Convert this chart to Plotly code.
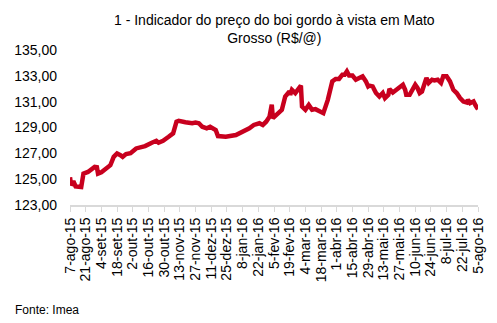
import plotly.graph_objects as go
import pandas as pd

dates = [
    "2015-08-07", "2015-08-08", "2015-08-10", "2015-08-12", "2015-08-17", "2015-08-19",
    "2015-08-23", "2015-08-26", "2015-08-29", "2015-08-31", "2015-09-01", "2015-09-04",
    "2015-09-07", "2015-09-12", "2015-09-15", "2015-09-18", "2015-09-21", "2015-09-23",
    "2015-09-26", "2015-09-30", "2015-10-05", "2015-10-13", "2015-10-19", "2015-10-23",
    "2015-10-25", "2015-10-29", "2015-11-03", "2015-11-07", "2015-11-10", "2015-11-12",
    "2015-11-18", "2015-11-24", "2015-11-27", "2015-11-30", "2015-12-03", "2015-12-07",
    "2015-12-10", "2015-12-15", "2015-12-17", "2015-12-24", "2016-01-02", "2016-01-08",
    "2016-01-14", "2016-01-18", "2016-01-23", "2016-01-26", "2016-01-29", "2016-02-01",
    "2016-02-03", "2016-02-04", "2016-02-08", "2016-02-12", "2016-02-15", "2016-02-18",
    "2016-02-20", "2016-02-21", "2016-02-24", "2016-02-26", "2016-02-29", "2016-03-01",
    "2016-03-04", "2016-03-07", "2016-03-10", "2016-03-13", "2016-03-18", "2016-03-20",
    "2016-03-24", "2016-03-28", "2016-03-31", "2016-04-03", "2016-04-06", "2016-04-08",
    "2016-04-10", "2016-04-12", "2016-04-15", "2016-04-18", "2016-04-21", "2016-04-24",
    "2016-04-27", "2016-04-29", "2016-04-30", "2016-05-03", "2016-05-06", "2016-05-09",
    "2016-05-12", "2016-05-14", "2016-05-17", "2016-05-18", "2016-05-21", "2016-05-24",
    "2016-05-27", "2016-05-30", "2016-06-01", "2016-06-02", "2016-06-05", "2016-06-08",
    "2016-06-10", "2016-06-12", "2016-06-14", "2016-06-16", "2016-06-19", "2016-06-20",
    "2016-06-22", "2016-06-25", "2016-06-27", "2016-06-30", "2016-07-03", "2016-07-05",
    "2016-07-08", "2016-07-11", "2016-07-14", "2016-07-17", "2016-07-20", "2016-07-23",
    "2016-07-26", "2016-07-27", "2016-07-29", "2016-08-01", "2016-08-03", "2016-08-05",
]

precos = [
    125.14, 124.52, 124.85, 124.44, 124.39, 125.43,
    125.56, 125.74, 125.95, 125.92, 125.43, 125.53,
    125.74, 126.08, 126.73, 126.99, 126.86, 126.73,
    126.94, 127.01, 127.38, 127.56, 127.82, 127.97,
    127.82, 127.97, 128.28, 128.55, 129.45, 129.51,
    129.41, 129.33, 129.38, 129.33, 129.06, 128.94,
    129.06, 128.81, 128.34, 128.28, 128.42, 128.67,
    128.94, 129.20, 129.33, 129.20, 129.45, 129.84,
    130.76, 129.72, 130.11, 130.37, 131.40, 131.71,
    131.67, 131.92, 131.67, 131.92, 132.24, 130.62,
    130.37, 130.75, 130.37, 130.42, 130.23, 130.11,
    131.14, 132.57, 132.76, 132.76, 133.09, 133.09,
    133.35, 133.02, 133.02, 132.70, 132.84, 132.96,
    132.57, 132.18, 132.24, 132.18, 131.67, 131.40,
    131.67, 131.28, 131.53, 131.98, 131.71, 131.92,
    132.06, 132.31, 131.92, 131.53, 131.53, 131.92,
    132.31, 132.06, 131.67, 131.79, 132.57, 132.84,
    132.45, 132.70, 132.65, 132.70, 132.45, 132.96,
    132.96, 132.57, 131.92, 131.67, 131.28, 131.01,
    130.93, 131.14, 130.89, 131.01, 130.68, 130.42,
]

tick_dates = [
    "2015-08-07", "2015-08-21", "2015-09-04", "2015-09-18", "2015-10-02", "2015-10-16",
    "2015-10-30", "2015-11-13", "2015-11-27", "2015-12-11", "2015-12-25", "2016-01-08",
    "2016-01-22", "2016-02-05", "2016-02-19", "2016-03-04", "2016-03-18", "2016-04-01",
    "2016-04-15", "2016-04-29", "2016-05-13", "2016-05-27", "2016-06-10", "2016-06-24",
    "2016-07-08", "2016-07-22", "2016-08-05",
]
tick_labels = [
    "7-ago-15", "21-ago-15", "4-set-15", "18-set-15", "2-out-15", "16-out-15",
    "30-out-15", "13-nov-15", "27-nov-15", "11-dez-15", "25-dez-15", "8-jan-16",
    "22-jan-16", "5-fev-16", "19-fev-16", "4-mar-16", "18-mar-16", "1-abr-16",
    "15-abr-16", "29-abr-16", "13-mai-16", "27-mai-16", "10-jun-16", "24-jun-16",
    "8-jul-16", "22-jul-16", "5-ago-16",
]

y_ticks = [123, 125, 127, 129, 131, 133, 135]
y_labels = ["123,00", "125,00", "127,00", "129,00", "131,00", "133,00", "135,00"]

title_text = "1 - Indicador do preço do boi gordo à vista em Mato<br>Grosso (R$/@)"
source_text = "Fonte: Imea"

FONT = "Liberation Sans, Arial, sans-serif"

fig = go.Figure()
fig.add_trace(go.Scatter(
    x=pd.to_datetime(dates), y=precos, mode="lines",
    line=dict(color="#C8001E", width=4.5),
    hoverinfo="skip", showlegend=False,
))

fig.update_layout(
    width=497, height=323,
    margin=dict(l=70, r=19, t=50, b=118),
    paper_bgcolor="white", plot_bgcolor="white",
    font=dict(family=FONT, color="black", size=14),
    xaxis=dict(
        type="date",
        range=[pd.Timestamp("2015-08-07"), pd.Timestamp("2016-08-05")],
        tickvals=pd.to_datetime(tick_dates), ticktext=tick_labels,
        tickangle=-90, tickfont=dict(family=FONT, size=14, color="black"),
        showgrid=False, showline=True, linecolor="#D9D9D9", linewidth=2,
        ticks="outside", ticklen=5, tickcolor="#D9D9D9", tickwidth=1,
        zeroline=False,
    ),
    yaxis=dict(
        range=[123, 135], tickvals=y_ticks, ticktext=y_labels,
        tickfont=dict(family=FONT, size=14, color="black"),
        showgrid=False, showline=False, zeroline=False, ticks="",
        ticklabelstandoff=12,
    ),
    annotations=[
        dict(
            text=title_text, xref="paper", yref="paper", x=0.5, y=1.135,
            xanchor="center", yanchor="middle", showarrow=False, align="center",
            font=dict(family=FONT, size=14, color="black"),
        ),
        dict(
            text=source_text, xref="paper", yref="paper", x=-0.14, y=-0.68,
            xanchor="left", yanchor="middle", showarrow=False,
            font=dict(family=FONT, size=12, color="black"),
        ),
    ],
)

fig.write_html("out.html")
